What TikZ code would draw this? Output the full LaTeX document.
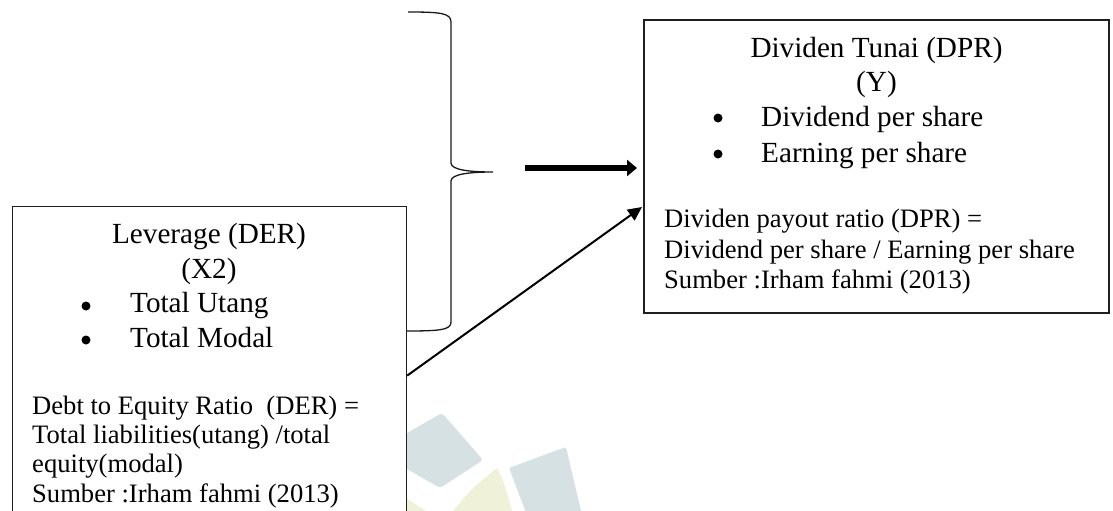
\documentclass[tikz,border=0pt]{standalone}
\usepackage{fontspec}
\setmainfont{Liberation Serif}
\usetikzlibrary{arrows.meta}
\definecolor{wmblue}{HTML}{D6E1E4}
\definecolor{wmyellow}{HTML}{EFF2D8}
\tikzset{
  boxframe/.style={draw=black!88, line width=1.2pt, fill=white, inner sep=0pt},
  headtxt/.style={inner sep=0pt, anchor=base, font=\fontsize{29.2}{34}\selectfont},
  itemtxt/.style={inner sep=0pt, anchor=base west, font=\fontsize{29.2}{34}\selectfont},
  bodytxt/.style={inner sep=0pt, anchor=base west, font=\fontsize{26.6}{30}\selectfont},
  bulletdot/.style={circle, fill=black, inner sep=0pt, minimum size=9pt},
  bracepath/.style={draw=black!90, line width=1.3pt},
  thickarrow/.style={line width=6.5pt, -{Triangle[length=10pt,width=16pt]}},
  thinarrow/.style={line width=2pt, -{Triangle[length=14pt,width=13pt]}}
}
\begin{document}
\begin{tikzpicture}[x=1pt,y=-1pt]
\useasboundingbox (0,0) rectangle (1113,511);
\clip (0,0) rectangle (1113,511);
\fill[white] (0,0) rectangle (1113,511);
% faint watermark
\fill[wmblue, rounded corners=3pt] (395,440) -- (442,413) -- (483,460) -- (440,488) -- (395,462) -- cycle;
\fill[wmblue, rounded corners=2pt] (509,468) -- (566,447) -- (582,515) -- (527,515) -- cycle;
\fill[wmyellow] (450,515) .. controls (470,490) .. (497,468) .. controls (505,485) .. (513,515) -- cycle;
\fill[wmyellow] (406,498) -- (432,515) -- (406,515) -- cycle;
% boxes
\node[boxframe, minimum width=394pt, minimum height=338pt, anchor=north west] (lbox) at (12,206) {};
\node[boxframe, minimum width=465pt, minimum height=293pt] (rbox) at (876.5,166.5) {};
% left box text
\node[headtxt] (lh1) at (209,243) {Leverage (DER)};
\node[headtxt] (lh2) at (209,278) {(X2)};
\node[bulletdot] (lb1) at (86,306) {};
\node[itemtxt] (lt1) at (130,312) {Total Utang};
\node[bulletdot] (lb2) at (86,340) {};
\node[itemtxt] (lt2) at (130,347) {Total Modal};
\node[bodytxt] (lf1) at (32,414) {Debt to Equity Ratio~ (DER) =};
\node[bodytxt] (lf2) at (32,443) {Total liabilities(utang) /total};
\node[bodytxt] (lf3) at (32,472) {equity(modal)};
\node[bodytxt] (lf4) at (32,502) {Sumber :Irham fahmi (2013)};
% right box text
\node[headtxt] (rh1) at (876.5,57) {Dividen Tunai (DPR)};
\node[headtxt] (rh2) at (876.5,91) {(Y)};
\node[bulletdot] (rb1) at (718,118) {};
\node[itemtxt] (rt1) at (761,126) {Dividend per share};
\node[bulletdot] (rb2) at (718,154) {};
\node[itemtxt] (rt2) at (761,162) {Earning per share};
\node[bodytxt] (rf1) at (664,227) {Dividen payout ratio (DPR) =};
\node[bodytxt] (rf2) at (664,258) {Dividend per share / Earning per share};
\node[bodytxt] (rf3) at (664,288) {Sumber :Irham fahmi (2013)};
% brace
\draw[bracepath] (408,12) .. controls (440,12) and (451,13) .. (451,22) -- (451,163)
  .. controls (451,170) and (470,172) .. (493,172)
  .. controls (470,172) and (451,174) .. (451,181) -- (451,322)
  .. controls (451,330) and (440,331) .. (406,331);
% arrows
\coordinate (thA) at (525,168);
\coordinate (thB) at (637,168);
\draw[thickarrow] (thA) -- (thB);
\coordinate (dgEnd) at (642,207);
\draw[thinarrow] (lbox.east) -- (dgEnd);
\end{tikzpicture}
\end{document}
